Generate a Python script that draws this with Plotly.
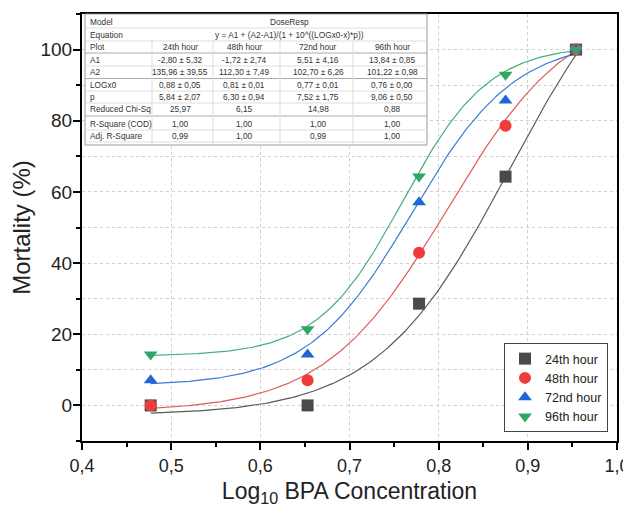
import numpy as np
import plotly.graph_objects as go

# log10 BPA concentration and mortality (%) per exposure time
log_conc = [0.477, 0.653, 0.778, 0.875, 0.954]
hours = ["24th hour", "48th hour", "72nd hour", "96th hour"]
mort_24 = [0.0, 0.0, 28.6, 64.3, 100.0]
mort_48 = [0.0, 7.1, 42.9, 78.6, 100.0]
mort_72 = [7.1, 14.3, 57.1, 85.7, 100.0]
mort_96 = [14.3, 21.4, 64.3, 92.9, 100.0]

# DoseResp fit parameters (from the table)
A1 = [-2.80, -1.72, 5.51, 13.84]
A2 = [135.96, 112.30, 102.70, 101.22]
LOGX0 = [0.88, 0.81, 0.77, 0.76]
P = [5.84, 6.30, 7.52, 9.06]

# table text
row_labels = ["Model", "Equation", "Plot", "A1", "A2", "LOGx0", "p",
              "Reduced Chi-Sq", "R-Square (COD)", "Adj. R-Square"]
col_a1 = ["-2,80 ± 5,32", "-1,72 ± 2,74", "5,51 ± 4,16", "13,84 ± 0,85"]
col_a2 = ["135,96 ± 39,55", "112,30 ± 7,49", "102,70 ± 6,26", "101,22 ± 0,98"]
col_x0 = ["0,88 ± 0,05", "0,81 ± 0,01", "0,77 ± 0,01", "0,76 ± 0,00"]
col_p = ["5,84 ± 2,07", "6,30 ± 0,94", "7,52 ± 1,75", "9,06 ± 0,50"]
col_chi = ["25,97", "6,15", "14,98", "0,88"]
col_r2 = ["1,00", "1,00", "1,00", "1,00"]
col_adj = ["0,99", "1,00", "0,99", "1,00"]

series = [mort_24, mort_48, mort_72, mort_96]
marker_colors = ["#4a4a4a", "#ee3b3b", "#1f66d6", "#2fa866"]
line_colors = ["#5a5a5a", "#e05a5a", "#3a7bd5", "#45b078"]
symbols = ["square", "circle", "triangle-up", "triangle-down"]
FONT = "Liberation Sans, Arial, sans-serif"

# page body has an 8px margin, so the figure is drawn a bit smaller
OFF = 8
W, H = 631 - OFF, 507 - OFF
L, R, T, B = 82 - OFF, 14, 14 - OFF, 66
PW, PH = W - L - R, H - T - B


def px(x):
    # screen pixel -> paper
    return (x - OFF - L) / PW


def py(y):
    return (H - B - (y - OFF)) / PH


fig = go.Figure()

xs = np.linspace(log_conc[0], log_conc[-1], 200)
for i in range(4):
    ys = A1[i] + (A2[i] - A1[i]) / (1 + 10 ** ((LOGX0[i] - xs) * P[i]))
    fig.add_trace(go.Scatter(x=xs, y=ys, mode="lines", showlegend=False,
                             line=dict(color=line_colors[i], width=1.2),
                             hoverinfo="skip"))

for i in range(4):
    fig.add_trace(go.Scatter(x=log_conc, y=series[i], mode="markers", name=hours[i],
                             marker=dict(symbol=symbols[i], size=12, color=marker_colors[i])))

# ---- fit result table (top-left, inside plot) ----
tx0, tx1, ty0, ty1 = 85, 427, 14, 145
col_edges = [152, 213, 280, 353]
col_centers = [180, 244, 318, 392]
row_y = [22, 34.5, 47, 59.5, 72, 85, 97, 108.5, 124, 136]
row_lines = [28, 41, 53, 66, 78.5, 91, 103, 116, 130, 142]

shapes = [dict(type="rect", xref="paper", yref="paper", x0=px(tx0), x1=px(tx1),
               y0=py(ty1), y1=py(ty0), fillcolor="white",
               line=dict(color="#9a9a9a", width=1), layer="above")]
for k, yl in enumerate(row_lines):
    dark = k in (2, 4, 7)
    shapes.append(dict(type="line", xref="paper", yref="paper", x0=px(tx0), x1=px(tx1),
                       y0=py(yl), y1=py(yl), layer="above",
                       line=dict(color="#aaaaaa" if dark else "#dddddd", width=1)))
for xe in col_edges:
    shapes.append(dict(type="line", xref="paper", yref="paper", x0=px(xe), x1=px(xe),
                       y0=py(ty1), y1=py(41), layer="above",
                       line=dict(color="#dddddd", width=1)))

ann = []


def cell(x, y, text, anchor="center"):
    ann.append(dict(x=px(x), y=py(y), xref="paper", yref="paper", text=text,
                    showarrow=False, xanchor=anchor, yanchor="middle",
                    font=dict(family=FONT, size=8.3, color="#333333")))


for lab, y in zip(row_labels, row_y):
    cell(88, y, lab, "left")
cell(289, row_y[0], "DoseResp")
cell(289, row_y[1], "y = A1 + (A2-A1)/(1 + 10^((LOGx0-x)*p))")
rows = [hours, col_a1, col_a2, col_x0, col_p, col_chi, col_r2, col_adj]
for r, vals in enumerate(rows):
    for c, v in enumerate(vals):
        cell(col_centers[c], row_y[r + 2], v)

fig.update_layout(
    width=W, height=H,
    margin=dict(l=L, r=R, t=T, b=B),
    paper_bgcolor="white", plot_bgcolor="white",
    separators=", ",
    font=dict(family=FONT, color="#222222"),
    shapes=shapes, annotations=ann,
    legend=dict(x=px(608), y=py(432), xanchor="right", yanchor="bottom",
                bordercolor="#444444", borderwidth=1, bgcolor="white",
                font=dict(family=FONT, size=12.5, color="#222222"),
                itemsizing="constant", tracegroupgap=0),
)
fig.update_xaxes(range=[0.4, 1.0], dtick=0.1, tick0=0.4, tickformat=".1f",
                 automargin=False,
                 ticks="outside", ticklen=7, tickwidth=1.5, tickcolor="black",
                 showline=True, linecolor="black", linewidth=2, mirror=True,
                 showgrid=True, gridcolor="#cfcfcf", griddash="dot", gridwidth=1,
                 zeroline=False,
                 minor=dict(dtick=0.05, ticks="outside", ticklen=4, tickcolor="black",
                            showgrid=False),
                 tickfont=dict(family=FONT, size=18, color="#222222"),
                 title=dict(text="Log<sub>10</sub> BPA Concentration",
                            font=dict(family=FONT, size=23, color="#222222"), standoff=12))
fig.update_yaxes(range=[-10, 110], dtick=20, tick0=0,
                 automargin=False, ticklabelstandoff=-3,
                 ticks="outside", ticklen=7, tickwidth=1.5, tickcolor="black",
                 showline=True, linecolor="black", linewidth=2, mirror=True,
                 showgrid=True, gridcolor="#cfcfcf", griddash="dot", gridwidth=1,
                 zeroline=False,
                 minor=dict(dtick=10, tick0=0, ticks="outside", ticklen=4, tickcolor="black",
                            showgrid=True, gridcolor="#cfcfcf", griddash="dot"),
                 tickfont=dict(family=FONT, size=19, color="#222222"),
                 title=dict(text="Mortality (%)",
                            font=dict(family=FONT, size=24, color="#222222"), standoff=4))

fig.write_html("out.html")
